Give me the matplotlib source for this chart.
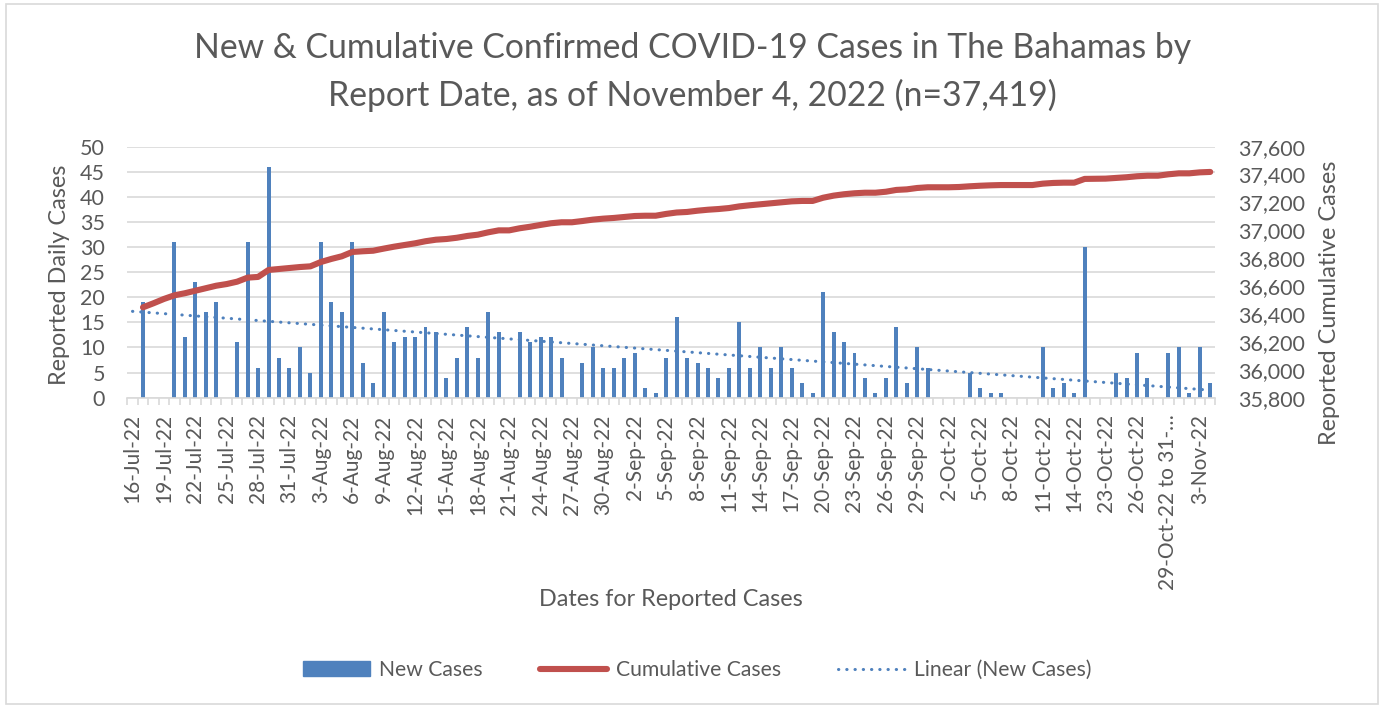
import matplotlib.pyplot as plt
import matplotlib.patches as mpatches
from matplotlib.lines import Line2D
from matplotlib.ticker import FuncFormatter
import numpy as np
import pandas as pd

plt.rcParams['font.family'] = ['Lato', 'DejaVu Sans']

# report dates: daily up to 14-Oct, then some grouped dates
daily = pd.date_range('2022-07-16', '2022-10-14')
categories = [f"{d.day}-{d.strftime('%b-%y')}" for d in daily]
categories += ['15-Oct-22 to 21-Oct-22', '22-Oct-22', '23-Oct-22', '24-Oct-22',
               '25-Oct-22', '26-Oct-22', '27-Oct-22', '28-Oct-22',
               '29-Oct-22 to 31-Oct-22', '1-Nov-22', '2-Nov-22', '3-Nov-22', '4-Nov-22']

new_cases = [
    0, 19, 0, 0, 31, 12, 23, 17, 19, 0,
    11, 31, 6, 46, 8, 6, 10, 5, 31, 19,
    17, 31, 7, 3, 17, 11, 12, 12, 14, 13,
    4, 8, 14, 8, 17, 13, 0, 13, 11, 12,
    12, 8, 0, 7, 10, 6, 6, 8, 9, 2,
    1, 8, 16, 8, 7, 6, 4, 6, 15, 6,
    10, 6, 10, 6, 3, 1, 21, 13, 11, 9,
    4, 1, 4, 14, 3, 10, 6, 0, 0, 0,
    5, 2, 1, 1, 0, 0, 0, 10, 2, 3,
    1, 30, 0, 0, 5, 4, 9, 4, 0, 9,
    10, 1, 10, 3]

cumulative = [
    np.nan, 36448, 36477, 36508, 36534, 36549, 36567, 36585, 36603, 36615,
    36632, 36661, 36666, 36716, 36723, 36730, 36737, 36742, 36773, 36795,
    36814, 36845, 36850, 36854, 36869, 36883, 36895, 36907, 36922, 36933,
    36938, 36947, 36960, 36969, 36986, 37000, 37000, 37015, 37026, 37039,
    37051, 37058, 37058, 37067, 37077, 37084, 37089, 37096, 37103, 37105,
    37105, 37118, 37128, 37132, 37141, 37148, 37153, 37160, 37172, 37180,
    37187, 37194, 37201, 37208, 37211, 37211, 37234, 37249, 37259, 37266,
    37270, 37270, 37277, 37290, 37294, 37304, 37309, 37309, 37309, 37311,
    37316, 37320, 37323, 37325, 37325, 37325, 37325, 37335, 37340, 37342,
    37342, 37369, 37370, 37371, 37376, 37381, 37388, 37392, 37392, 37402,
    37409, 37409, 37416, 37419]

# linear trendline of new cases, value at first and last category
trend_ends = [17.2, 1.5]

BLUE = '#4F81BD'
RED = '#C0504D'
TXT = '#595959'
GRID = '#D9D9D9'

x = np.arange(len(categories))

fig = plt.figure(figsize=(13.85, 7.08), dpi=100)
ax = fig.add_axes([0.0919, 0.4383, 0.7857, 0.3545])

ax.bar(x, new_cases, width=0.38, color=BLUE, zorder=2)
ax.plot([x[0], x[-1]], trend_ends, color=BLUE, lw=2.2,
        linestyle=(0, (0.1, 2.6)), dash_capstyle='round', zorder=3)

ax.set_xlim(-0.5, len(x) - 0.5)
ax.set_ylim(0, 50)
ax.set_yticks(range(0, 51, 5))
ax.grid(axis='y', color=GRID, lw=1.2, zorder=0)
ax.set_axisbelow(True)

# labels every 3rd category, ticks on every category boundary
shown = x[::3]
labels = []
for i in shown:
    lab = categories[i]
    if len(lab) > 17:
        lab = lab[:16] + '…'
    labels.append(lab)
ax.set_xticks(shown)
ax.set_xticklabels(labels, rotation=90, fontsize=15, color=TXT)
ax.set_xticks(np.arange(-0.5, len(x)), minor=True)
ax.tick_params(axis='x', which='major', length=0, pad=12)
ax.tick_params(axis='x', which='minor', length=5, color=GRID, width=1.2)
ax.tick_params(axis='y', length=0, pad=16, labelsize=15.5, labelcolor=TXT)

for s in ['top', 'left', 'right']:
    ax.spines[s].set_visible(False)
ax.spines['bottom'].set_color(GRID)
ax.spines['bottom'].set_linewidth(1.2)

ax2 = ax.twinx()
ax2.plot(x, cumulative, color=RED, lw=4.4, solid_capstyle='round', zorder=4)
ax2.set_ylim(35800, 37600)
ax2.set_yticks(range(35800, 37601, 200))
ax2.yaxis.set_major_formatter(FuncFormatter(lambda v, p: f'{int(v):,}'))
ax2.tick_params(axis='y', length=0, pad=16, labelsize=15.5, labelcolor=TXT)
for s in ['top', 'left', 'right', 'bottom']:
    ax2.spines[s].set_visible(False)

fig.text(0.5, 1 - 48 / 708, 'New & Cumulative Confirmed COVID-19 Cases in The Bahamas by',
         ha='center', va='center', fontsize=24.3, color=TXT)
fig.text(0.5, 1 - 95 / 708, 'Report Date, as of November 4, 2022 (n=37,419)',
         ha='center', va='center', fontsize=24.3, color=TXT)
fig.text(60 / 1385, 1 - 275 / 708, 'Reported Daily Cases', rotation=90,
         ha='center', va='center', fontsize=16.8, color=TXT)
fig.text(1330 / 1385, 1 - 303 / 708, 'Reported Cumulative Cases', rotation=90,
         ha='center', va='center', fontsize=16.8, color=TXT)
fig.text(671 / 1385, 1 - 600 / 708, 'Dates for Reported Cases',
         ha='center', va='center', fontsize=16.8, color=TXT)

handles = [mpatches.Patch(color=BLUE),
           Line2D([], [], color=RED, lw=4.4, solid_capstyle='round'),
           Line2D([], [], color=BLUE, lw=2.2, linestyle=(0, (0.1, 2.6)), dash_capstyle='round')]
fig.legend(handles, ['New Cases', 'Cumulative Cases', 'Linear (New Cases)'],
           loc='center', bbox_to_anchor=(697 / 1385, 1 - 670 / 708), ncol=3,
           frameon=False, fontsize=15.2, labelcolor=TXT,
           handlelength=3.2, handletextpad=0.4, columnspacing=2.7)

fig.patches.append(mpatches.Rectangle((6 / 1385, 4 / 708), 1372 / 1385, 700 / 708,
                                      transform=fig.transFigure, fill=False,
                                      edgecolor=GRID, lw=1.2))

fig.savefig('out.png', dpi=100)
